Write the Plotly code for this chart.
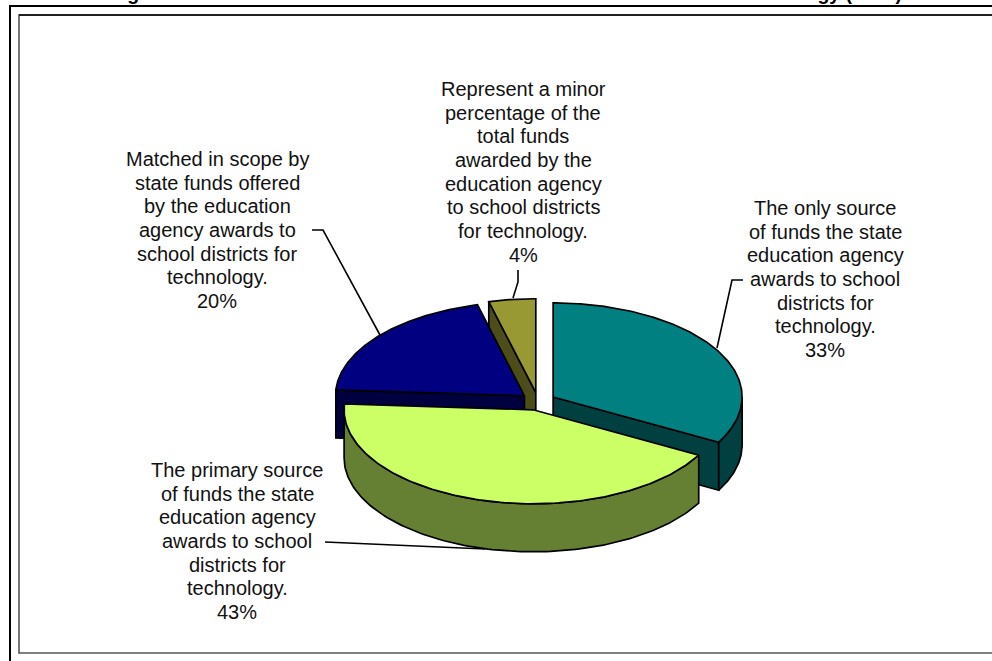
import numpy as np
import plotly.graph_objects as go

# Share of respondents per category, clockwise from twelve o'clock
shares = [33, 43, 20, 4]
top_colors = ["#008080", "#CCFF66", "#000080", "#999933"]
side_colors = ["#004040", "#668033", "#000040", "#4D4D1A"]

label_lines = [
    ["The only source", "of funds the state", "education agency", "awards to school",
     "districts for", "technology.", "33%"],
    ["The primary source", "of funds the state", "education agency", "awards to school",
     "districts for", "technology.", "43%"],
    ["Matched in scope by", "state funds offered", "by the education", "agency awards to",
     "school districts for", "technology.", "20%"],
    ["Represent a minor", "percentage of the", "total funds", "awarded by the",
     "education agency", "to school districts", "for technology.", "4%"],
]
label_anchor_x = [825, 237, 217, 523]
label_first_y = [208, 470, 159, 89]
line_pitch = 23.65

leader_x = [[743, 732, 717], [325, 485], [312, 323, 380], [518, 518, 513]]
leader_y = [[280, 280, 348], [542, 549], [230, 230, 335], [270, 282, 298]]

title = "Figure III-6. Role of TLCF Funds in States' Investment in Education Technology (1999)"

# Projected pie geometry in page units
cx, cy = 538.0, 401.4
rx, ry = 189.0, 94.0
depth = 48.0
explode = 0.093
draw_order = [3, 2, 0, 1]  # painter's order, back to front

edges = np.cumsum([0] + shares) / sum(shares) * 2 * np.pi


def rim(ax, ay, angles):
    return ax + rx * np.sin(angles), ay - ry * np.cos(angles)


def polygon(fig, xs, ys, color):
    fig.add_trace(go.Scatter(
        x=np.append(xs, xs[0]), y=np.append(ys, ys[0]), mode="lines", fill="toself",
        fillcolor=color, line=dict(color="black", width=1.7), hoverinfo="skip",
    ))


fig = go.Figure()

for i in draw_order:
    a0, a1 = edges[i], edges[i + 1]
    mid = (a0 + a1) / 2
    ax, ay = cx + explode * rx * np.sin(mid), cy - explode * ry * np.cos(mid)

    # Radial cut faces show only when they turn toward the viewer
    faces = []
    if np.sin(a0) < -1e-9:
        faces.append(a0)
    if np.sin(a1) > 1e-9:
        faces.append(a1)
    for a in faces:
        ex, ey = rim(ax, ay, np.array([a]))
        polygon(fig, np.array([ax, ex[0], ex[0], ax]),
                np.array([ay, ey[0], ey[0] + depth, ay + depth]), side_colors[i])

    # Outer wall, only where the rim faces the viewer
    lo, hi = max(a0, np.pi / 2), min(a1, 3 * np.pi / 2)
    if lo < hi:
        t = np.linspace(lo, hi, 120)
        wx, wy = rim(ax, ay, t)
        polygon(fig, np.concatenate([wx, wx[::-1]]),
                np.concatenate([wy, wy[::-1] + depth]), side_colors[i])

    # Top face
    t = np.linspace(a0, a1, 160)
    tx, ty = rim(ax, ay, t)
    polygon(fig, np.concatenate([[ax], tx]), np.concatenate([[ay], ty]), top_colors[i])

# Leader lines from the labels to the slices
for xs, ys in zip(leader_x, leader_y):
    fig.add_trace(go.Scatter(x=xs, y=ys, mode="lines",
                             line=dict(color="black", width=1.6), hoverinfo="skip"))

annotations = []
for lines, x0, y0 in zip(label_lines, label_anchor_x, label_first_y):
    for k, line in enumerate(lines):
        annotations.append(dict(
            x=x0, y=y0 + k * line_pitch, text=line, showarrow=False, xanchor="center",
            yanchor="middle", font=dict(family="Liberation Sans", size=20, color="#111111"),
        ))

annotations.append(dict(
    x=506, y=1, text=f"<b>{title}</b>", showarrow=False, xanchor="center", yanchor="bottom",
    font=dict(family="Liberation Sans", size=19.5, color="black"), yshift=-5,
))

# Double frame around the chart area
frames = [
    dict(type="rect", x0=10, y0=6, x1=1010, y1=680, line=dict(color="black", width=2)),
    dict(type="rect", x0=19, y0=15, x1=1010, y1=653, line=dict(color="#555555", width=1.6)),
    dict(type="line", x0=19, y0=15, x1=1010, y1=15, line=dict(color="black", width=1.6)),
]

fig.update_layout(
    width=992, height=661, margin=dict(l=0, r=0, t=0, b=0), showlegend=False,
    paper_bgcolor="white", plot_bgcolor="white",
    xaxis=dict(visible=False, range=[0, 992]),
    yaxis=dict(visible=False, range=[661, 0]),
    shapes=frames, annotations=annotations,
)

fig.write_html("out.html")
